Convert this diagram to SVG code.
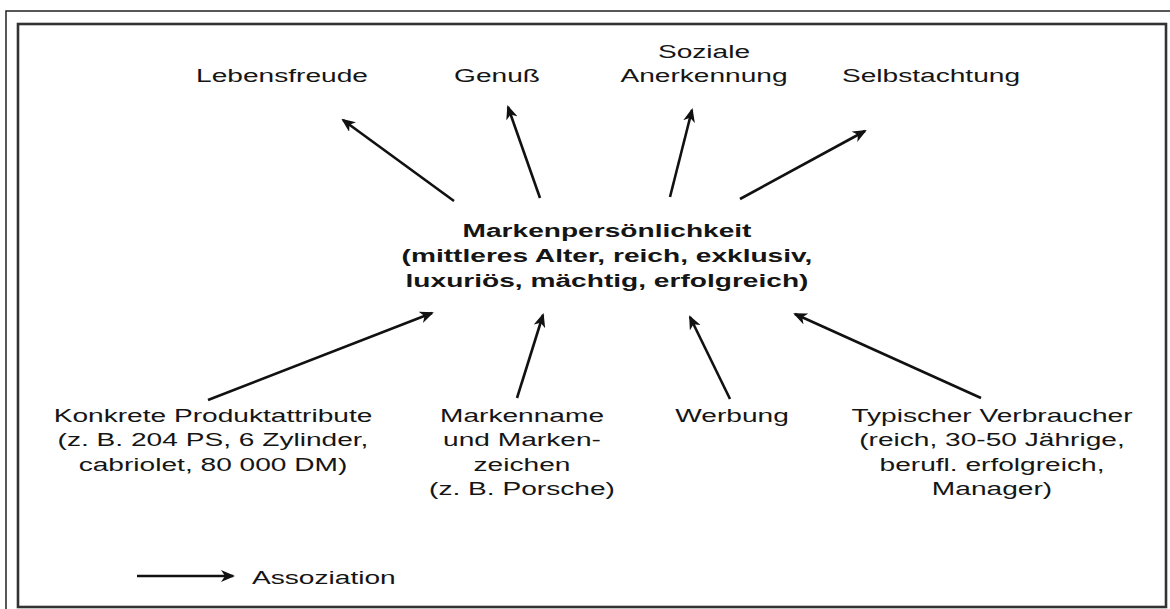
<svg xmlns="http://www.w3.org/2000/svg" width="1170" height="609" viewBox="0 0 1170 609">
<style>
.t{font-family:"Liberation Sans",Arial,sans-serif;font-size:19px;fill:#151515;text-anchor:middle}
.b{font-weight:bold}
.c{stroke:#111;stroke-width:2.6;fill:none;marker-end:url(#ah)}
</style>
<defs>
<marker id="ah" viewBox="0 0 14 12" refX="12" refY="6" markerWidth="14" markerHeight="12" markerUnits="userSpaceOnUse" orient="auto">
<path d="M0,0 L14,6 L0,12 L4,6 z" fill="#111"/>
</marker>
</defs>
<rect width="1170" height="609" fill="#fff"/>
<rect x="6" y="11" width="1170" height="610" fill="none" stroke="#222" stroke-width="1.5"/>
<rect x="18" y="24" width="1148" height="583" fill="none" stroke="#333" stroke-width="2.6"/>

<g id="connectors">
<line class="c" x1="454" y1="201" x2="343" y2="120"/>
<line class="c" x1="540" y1="198" x2="508" y2="107"/>
<line class="c" x1="670" y1="197" x2="692" y2="110"/>
<line class="c" x1="740" y1="199" x2="865" y2="131"/>
<line class="c" x1="208" y1="400" x2="432" y2="313"/>
<line class="c" x1="517" y1="398" x2="543" y2="315"/>
<line class="c" x1="730" y1="399" x2="690" y2="317"/>
<line class="c" x1="981" y1="398" x2="795" y2="314"/>
<line class="c" x1="137" y1="576" x2="233" y2="576"/>
</g>

<g id="lebensfreude"><text class="t" transform="translate(282,82) scale(1.48,1)">Lebensfreude</text></g>
<g id="genuss"><text class="t" transform="translate(497,82) scale(1.48,1)">Genuß</text></g>
<g id="soziale-anerkennung"><text class="t" transform="translate(704,58) scale(1.48,1)"><tspan x="0" y="0">Soziale</tspan><tspan x="0" y="24.5">Anerkennung</tspan></text></g>
<g id="selbstachtung"><text class="t" transform="translate(931,82) scale(1.48,1)">Selbstachtung</text></g>

<g id="markenpersoenlichkeit"><text class="t b" transform="translate(607,237) scale(1.48,1)"><tspan x="0" y="0">Markenpersönlichkeit</tspan><tspan x="0" y="25">(mittleres Alter, reich, exklusiv,</tspan><tspan x="0" y="50">luxuriös, mächtig, erfolgreich)</tspan></text></g>

<g id="produktattribute"><text class="t" transform="translate(213,422) scale(1.48,1)"><tspan x="0" y="0">Konkrete Produktattribute</tspan><tspan x="0" y="24.5">(z. B. 204 PS, 6 Zylinder,</tspan><tspan x="0" y="49">cabriolet, 80 000 DM)</tspan></text></g>
<g id="markenname"><text class="t" transform="translate(522,422) scale(1.48,1)"><tspan x="0" y="0">Markenname</tspan><tspan x="0" y="24.5">und Marken-</tspan><tspan x="0" y="49">zeichen</tspan><tspan x="0" y="73.5">(z. B. Porsche)</tspan></text></g>
<g id="werbung"><text class="t" transform="translate(732,422) scale(1.48,1)">Werbung</text></g>
<g id="verbraucher"><text class="t" transform="translate(992,422) scale(1.48,1)"><tspan x="0" y="0">Typischer Verbraucher</tspan><tspan x="0" y="24.5">(reich, 30-50 Jährige,</tspan><tspan x="0" y="49">berufl. erfolgreich,</tspan><tspan x="0" y="73.5">Manager)</tspan></text></g>

<g id="legende"><text class="t" transform="translate(252,584) scale(1.48,1)" style="text-anchor:start">Assoziation</text></g>
</svg>
